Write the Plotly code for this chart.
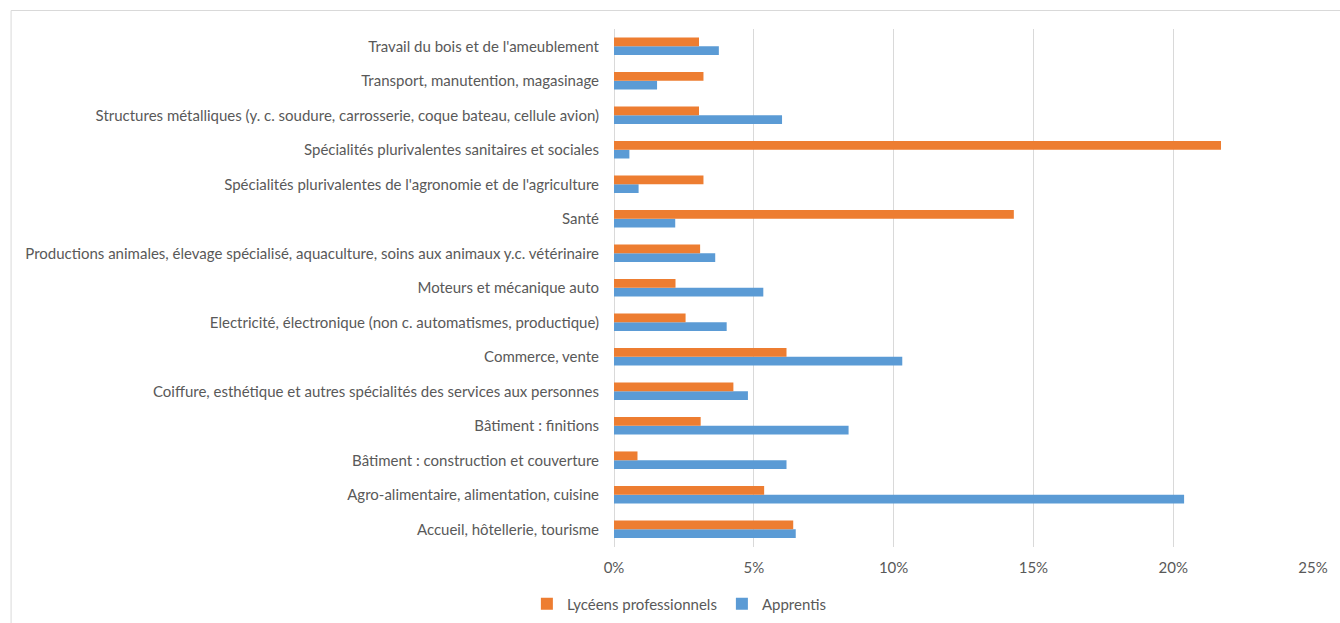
import plotly.graph_objects as go

# Filières, de bas en haut
categories = [
    "Accueil, hôtellerie, tourisme",
    "Agro-alimentaire, alimentation, cuisine",
    "Bâtiment : construction et couverture",
    "Bâtiment : finitions",
    "Coiffure, esthétique et autres spécialités des services aux personnes",
    "Commerce, vente",
    "Electricité, électronique (non c. automatismes, productique)",
    "Moteurs et mécanique auto",
    "Productions animales, élevage spécialisé, aquaculture, soins aux animaux y.c. vétérinaire",
    "Santé",
    "Spécialités plurivalentes de l'agronomie et de l'agriculture",
    "Spécialités plurivalentes sanitaires et sociales",
    "Structures métalliques (y. c. soudure, carrosserie, coque bateau, cellule avion)",
    "Transport, manutention, magasinage",
    "Travail du bois et de l'ameublement",
]

# Part des effectifs (%)
lyceens_pro = [6.41, 5.37, 0.84, 3.10, 4.27, 6.17, 2.56, 2.20, 3.08, 14.30, 3.20, 21.71, 3.04, 3.20, 3.04]
apprentis = [6.50, 20.39, 6.17, 8.39, 4.79, 10.31, 4.03, 5.34, 3.62, 2.19, 0.88, 0.55, 6.01, 1.54, 3.75]

x_ticks = [0, 5, 10, 15, 20, 25]
x_tick_labels = ["0%", "5%", "10%", "15%", "20%", "25%"]

TEXT = "#595959"
FONT = "Lato"
FS = 15

fig = go.Figure()
fig.add_trace(go.Bar(
    y=categories, x=apprentis, orientation="h", name="Apprentis",
    marker=dict(color="#5B9BD5", line=dict(width=0)),
))
fig.add_trace(go.Bar(
    y=categories, x=lyceens_pro, orientation="h", name="Lycéens professionnels",
    marker=dict(color="#ED7D31", line=dict(width=0)),
))

W, H = 1340, 623
ml, mr, mt, mb = 614, 24, 29, 76
pw, ph = W - ml - mr, H - mt - mb

fig.update_layout(
    width=W, height=H,
    margin=dict(l=ml, r=mr, t=mt, b=mb, pad=0),
    barmode="group", bargap=0.49, bargroupgap=0,
    paper_bgcolor="white", plot_bgcolor="white",
    font=dict(family=FONT, size=FS, color=TEXT),
    xaxis=dict(
        range=[0, 25], tickvals=x_ticks, ticktext=x_tick_labels,
        showgrid=True, gridcolor="#D9D9D9", gridwidth=1,
        zeroline=True, zerolinecolor="#D9D9D9", zerolinewidth=1,
        showline=False, ticks="", ticklabelstandoff=10,
        tickfont=dict(family=FONT, size=FS, color=TEXT),
        fixedrange=True,
    ),
    yaxis=dict(
        categoryorder="array", categoryarray=categories,
        showgrid=False, showline=False, ticks="", ticklabelstandoff=14,
        tickfont=dict(family=FONT, size=FS, color=TEXT),
        fixedrange=True,
    ),
    legend=dict(
        orientation="h", traceorder="reversed",
        xref="container", yref="container",
        x=0.507, xanchor="center", y=1 - 604 / H, yanchor="middle",
        font=dict(family=FONT, size=FS, color=TEXT),
        itemwidth=30,
    ),
    showlegend=True,
    shapes=[dict(
        type="rect", xref="paper", yref="paper",
        x0=(8.5 - ml) / pw, x1=(W + 5 - ml) / pw,
        y0=-(H + 5 - mt - ph) / ph, y1=1 + (mt - 10.5) / ph,
        line=dict(color="#D9D9D9", width=1), fillcolor="rgba(0,0,0,0)",
        layer="below",
    )],
)

fig.write_html("out.html", config={"displayModeBar": False})
